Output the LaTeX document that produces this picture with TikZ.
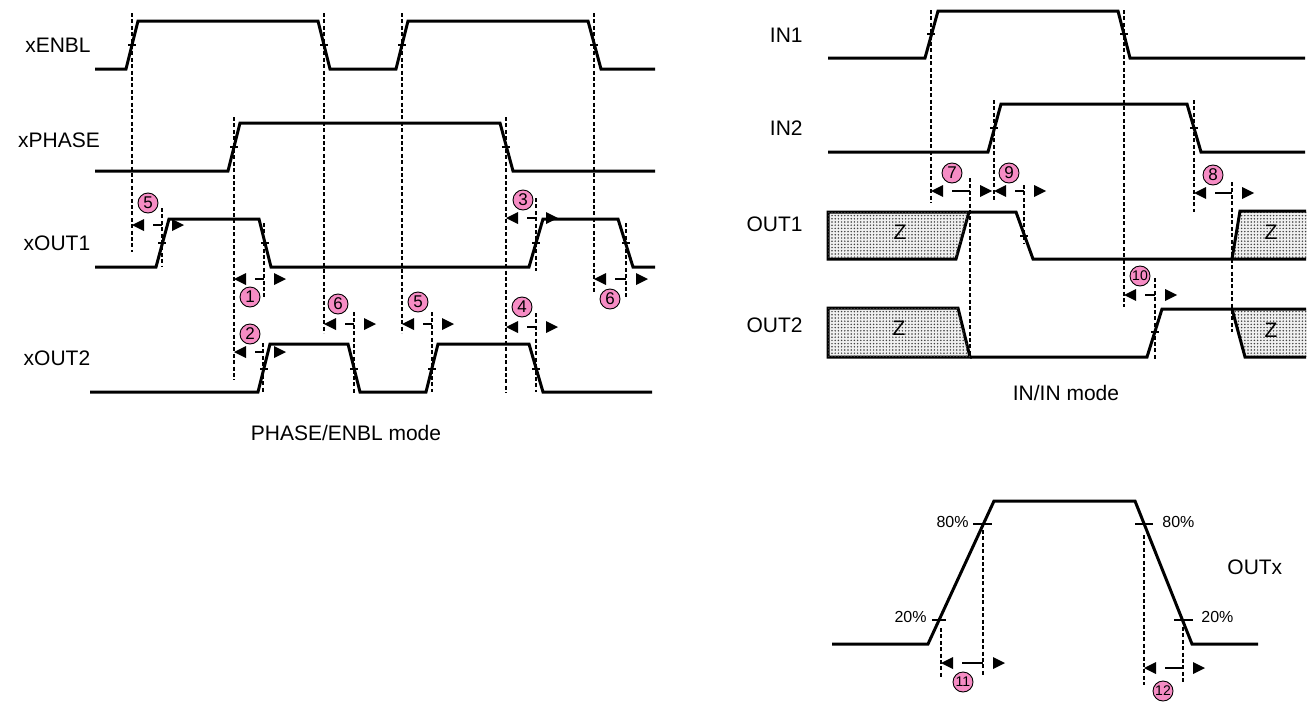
\documentclass[tikz,border=0pt]{standalone}
\usepackage{fontspec}
\setmainfont{Liberation Sans}
\usetikzlibrary{patterns.meta}
\definecolor{numpink}{RGB}{246,140,196}

% half-height tick on an edge
\newcommand{\wtick}[2]{\draw[tickmark] (#1-4,#2) -- (#1+4,#2);}
% timing arrow: from x #1 to x #2 on row #3
\newcommand{\tmeas}[3]{%
	\fill (#1,#3) -- (#1+12,#3-6) -- (#1+12,#3+6) -- cycle;
	\draw[tickmark] (#1+21,#3) -- (#2,#3);
	\fill (#2+10,#3-6) -- (#2+22,#3) -- (#2+10,#3+6) -- cycle;
}

\begin{document}
\begin{tikzpicture}[
		x=0.5pt, y=-0.5pt,
		wave/.style={line width=1.5pt, line join=miter},
		guide/.style={line width=0.7pt, dash pattern=on 2pt off 1.2pt},
		tickmark/.style={line width=0.85pt},
		num/.style={
				circle, draw, line width=0.45pt, fill=numpink,
				inner sep=0pt, minimum size=10pt,
				font=\fontsize{8.5}{8.5}\selectfont
			},
		smallnum/.style={num, font=\fontsize{7}{7}\selectfont},
		lbl/.style={inner sep=0pt, font=\fontsize{10.5}{12}\selectfont},
		pct/.style={inner sep=0pt, font=\fontsize{8}{10}\selectfont},
		hiz/.style={
				fill=gray!12,
				postaction={pattern={Dots[distance=1.6pt, radius=0.42pt]}, pattern color=black!75}
			}
	]
	\useasboundingbox (0,0) rectangle (1307,702);

	% ---------- PHASE/ENBL mode ----------
	\foreach \x/\ya/\yb in {132/13/252, 324/13/333, 402/13/333, 594/13/293,
			234/117/380, 506/117/393,
			162/208/267, 264/223/297, 536/198/271, 626/223/297,
			263/343/393, 354/312/393, 432/312/392, 536/313/392}
	\draw[guide] (\x,\ya) -- (\x,\yb);

	\node[lbl] (lenbl) at (58,45) {xENBL};
	\node[lbl] (lphase) at (59,140) {xPHASE};
	\node[lbl] (lout1) at (57,243) {xOUT1};
	\node[lbl] (lout2) at (57,358) {xOUT2};

	\draw[wave] (95,69) -- (126,69) -- (138,21) -- (318,21) -- (330,69) -- (396,69)
	-- (408,21) -- (588,21) -- (601,69) -- (655,69);
	\draw[wave] (95,171) -- (228,171) -- (240,123) -- (500,123) -- (513,171) -- (655,171);
	\draw[wave] (95,267) -- (156,267) -- (169,219) -- (259,219) -- (271,267) -- (529,267)
	-- (543,219) -- (618,219) -- (633,267) -- (655,267);
	\draw[wave] (90,392) -- (258,392) -- (270,344) -- (348,344) -- (360,392) -- (426,392)
	-- (438,344) -- (529,344) -- (543,392) -- (652,392);

	\wtick{132}{45} \wtick{324}{45} \wtick{402}{45} \wtick{594}{45}
	\wtick{234}{147} \wtick{506}{147}
	\wtick{162}{243} \wtick{265}{243} \wtick{536}{243} \wtick{626}{243}
	\wtick{264}{369} \wtick{354}{369} \wtick{432}{369} \wtick{536}{369}

	\tmeas{132}{162}{225}
	\tmeas{234}{264}{279}
	\tmeas{234}{264}{352}
	\tmeas{324}{354}{324}
	\tmeas{402}{432}{324}
	\tmeas{506}{536}{218}
	\tmeas{506}{536}{327}
	\tmeas{594}{626}{279}

	\node[num] (t5a) at (148,203) {5};
	\node[num] (t1) at (250,297) {1};
	\node[num] (t2) at (250,334) {2};
	\node[num] (t6a) at (338,304) {6};
	\node[num] (t5b) at (418,302) {5};
	\node[num] (t3) at (523,200) {3};
	\node[num] (t4) at (522,307) {4};
	\node[num] (t6b) at (610,299) {6};

	\node[lbl] (modea) at (346,433) {PHASE/ENBL mode};

	% ---------- IN/IN mode ----------
	\foreach \x/\ya/\yb in {931/10/203, 1124/10/307, 994/100/202, 1194/100/212,
			970/178/357, 1024/185/243, 1232/182/332, 1155/278/359}
	\draw[guide] (\x,\ya) -- (\x,\yb);

	\node[lbl, anchor=east] (lin1) at (803,35) {IN1};
	\node[lbl, anchor=east] (lin2) at (803,128) {IN2};
	\node[lbl, anchor=east] (lo1) at (803,224) {OUT1};
	\node[lbl, anchor=east] (lo2) at (803,325) {OUT2};

	\draw[wave] (828,58) -- (925,58) -- (938,11) -- (1118,11) -- (1130,58) -- (1305,58);
	\draw[wave] (828,152) -- (988,152) -- (1001,104) -- (1187,104) -- (1201,152) -- (1305,152);

	\fill[hiz] (1232,259) -- (1240,211) -- (1307,211) -- (1307,259) -- cycle;
	\fill[hiz] (1232,309) -- (1245,357) -- (1307,357) -- (1307,309) -- cycle;
	\filldraw[hiz, wave] (828,212) -- (969,212) -- (956,259) -- (828,259) -- cycle;
	\filldraw[hiz, wave] (828,308) -- (958,308) -- (970,357) -- (828,357) -- cycle;
	\draw[wave] (969,212) -- (1016,212) -- (1033,259) -- (1306,259);
	\draw[wave] (1232,259) -- (1240,211) -- (1306,211);
	\draw[wave] (970,357) -- (1147,357) -- (1162,309) -- (1306,309);
	\draw[wave] (1232,309) -- (1245,357) -- (1306,357);

	\node[lbl] (z1a) at (900,232) {Z};
	\node[lbl] (z2a) at (899,328) {Z};
	\node[lbl] (z1b) at (1271,232) {Z};
	\node[lbl] (z2b) at (1271,330) {Z};

	\wtick{931}{34} \wtick{1124}{34}
	\wtick{994}{128} \wtick{1194}{128}
	\wtick{1024}{236} \wtick{1155}{332}

	\tmeas{931}{970}{191}
	\tmeas{994}{1024}{191}
	\tmeas{1194}{1232}{193}
	\tmeas{1124}{1155}{295}

	\node[num] (t7) at (952,173) {7};
	\node[num] (t9) at (1009,173) {9};
	\node[num] (t8) at (1213,175) {8};
	\node[smallnum] (t10) at (1140,276) {10};

	\node[lbl] (modeb) at (1066,393) {IN/IN mode};

	% ---------- rise / fall ----------
	\foreach \x/\ya/\yb in {941/628/678, 983/530/677, 1144/535/685, 1183/627/683}
	\draw[guide] (\x,\ya) -- (\x,\yb);

	\draw[wave] (832,644) -- (928,644) -- (994,501) -- (1135,501) -- (1192,644) -- (1258,644);
	\draw[tickmark] (973,524) -- (992,524);
	\draw[tickmark] (1135,524) -- (1153,524);
	\draw[tickmark] (932,620) -- (946,620);
	\draw[tickmark] (1174,620) -- (1193,620);

	\node[pct, anchor=east] (p80a) at (969,522) {80\%};
	\node[pct, anchor=east] (p20a) at (927,617) {20\%};
	\node[pct, anchor=west] (p80b) at (1162,522) {80\%};
	\node[pct, anchor=west] (p20b) at (1201,617) {20\%};
	\node[lbl, anchor=west] (loutx) at (1227,567) {OUTx};

	\tmeas{941}{983}{663}
	\tmeas{1144}{1183}{668}

	\node[smallnum] (t11) at (963,682) {11};
	\node[smallnum] (t12) at (1163,691) {12};
\end{tikzpicture}
\end{document}
